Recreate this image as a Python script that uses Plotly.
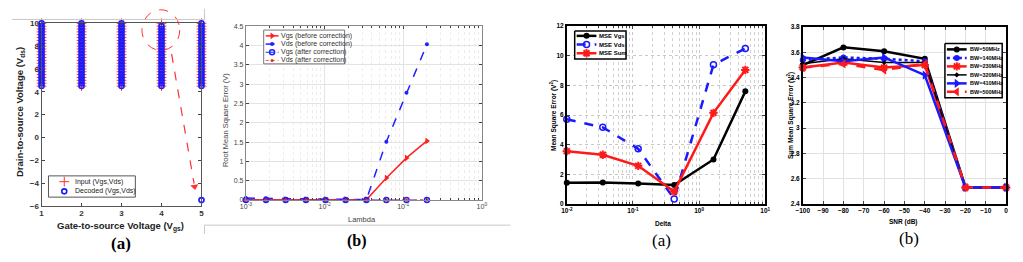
import plotly.graph_objects as go

W, H = 1023, 262

# ---------------- data ----------------
# Left figure, panel (a): input vs decoded (Vgs, Vds) pairs
vgs_levels = [1, 2, 3, 4, 5]
vds_levels = [4.5, 4.75, 5.0, 5.25, 5.5, 5.75, 6.0, 6.25, 6.5, 6.75, 7.0, 7.25,
              7.5, 7.75, 8.0, 8.25, 8.5, 8.75, 9.0, 9.25, 9.5, 9.75, 10.0]
err_input = [4, 10]        # the pair that is decoded wrongly
err_decoded = [5, -5.5]    # where it ends up

# Left figure, panel (b): RMSE vs Lambda
lambda_vals = [0.001, 0.0018, 0.0032, 0.0058, 0.0103, 0.0185, 0.034, 0.061, 0.11, 0.2]
vgs_before = [0.005, 0.005, 0.005, 0.005, 0.005, 0.005, 0.005, 0.57, 1.09, 1.53]
vds_before = [0.05, 0.045, 0.03, 0.02, 0.015, 0.01, 0.01, 1.51, 2.78, 4.03]
vgs_after = [0.0, 0.0, 0.0, 0.0, 0.0, 0.0, 0.0, 0.0, 0.0, 0.0]
vds_after = [0.0, 0.0, 0.0, 0.0, 0.0, 0.0, 0.0, 0.0, 0.0, 0.0]

# Right figure, panel (a): MSE vs Delta
delta_vals = [0.01, 0.035, 0.12, 0.42, 1.65, 5.0]
mse_vgs = [1.42, 1.44, 1.37, 1.28, 3.0, 7.6]
mse_vds = [5.72, 5.17, 3.72, 0.33, 9.4, 10.5]
mse_sum = [3.56, 3.32, 2.57, 0.83, 6.15, 9.05]

# Right figure, panel (b): Sum MSE vs SNR
snr_db = [-100, -80, -60, -40, -20, 0]
bw_names = ["BW=50MHz", "BW=140MHz", "BW=230MHz", "BW=320MHz", "BW=410MHz", "BW=500MHz"]
bw_50 = [3.50, 3.64, 3.61, 3.55, 2.53, 2.53]
bw_140 = [3.54, 3.56, 3.55, 3.53, 2.53, 2.53]
bw_230 = [3.48, 3.52, 3.48, 3.50, 2.53, 2.53]
bw_320 = [3.51, 3.55, 3.52, 3.52, 2.53, 2.53]
bw_410 = [3.56, 3.53, 3.56, 3.42, 2.53, 2.53]
bw_500 = [3.48, 3.51, 3.46, 3.51, 2.53, 2.53]

# ---------------- helpers ----------------
SANS = "Liberation Sans, Arial, sans-serif"
SERIF = "Liberation Serif, Times New Roman, serif"


def fx(p):
    return p / W


def fy(p):
    return 1 - p / H


def dom(x0, x1, y0, y1):
    return [fx(x0), fx(x1)], [fy(y1), fy(y0)]


fig = go.Figure()

# ---------------- panel 1 ----------------
in_x, in_y, dec_x, dec_y = [], [], [], []
for g in vgs_levels:
    for d in vds_levels:
        in_x.append(g)
        in_y.append(d)
        if [g, d] == err_input:
            dec_x.append(err_decoded[0])
            dec_y.append(err_decoded[1])
        else:
            dec_x.append(g)
            dec_y.append(d)

s_input = dict(mode="markers", marker=dict(symbol="cross-thin-open", size=7,
                                           line=dict(color="#ff3030", width=1), color="#ff3030"))
s_dec = dict(mode="markers", marker=dict(symbol="circle-open", size=5,
                                         line=dict(color="#1a1aff", width=1.6), color="#1a1aff"))
fig.add_trace(go.Scatter(x=in_x, y=in_y, xaxis="x", yaxis="y", cliponaxis=False, **s_input))
fig.add_trace(go.Scatter(x=dec_x, y=dec_y, xaxis="x", yaxis="y", cliponaxis=False, **s_dec))

# ---------------- panel 2 ----------------
p2 = [
    ("Vgs (before correction)", vgs_before, dict(mode="lines+markers", line=dict(color="#ff2020", width=1.5),
                                                  marker=dict(symbol="triangle-right", size=6, color="#ff2020"))),
    ("Vds (before correction)", vds_before, dict(mode="lines+markers", line=dict(color="#2020ff", width=1.5, dash="dash"),
                                                  marker=dict(symbol="circle", size=4, color="#2020ff"))),
    ("Vgs (after correction)", vgs_after, dict(mode="lines+markers", line=dict(color="#2020ff", width=1, dash="dashdot"),
                                                marker=dict(symbol="circle-open", size=5, color="#2020ff",
                                                            line=dict(width=1.5, color="#2020ff")))),
    ("Vds (after correction)", vds_after, dict(mode="lines+markers", line=dict(color="#ff5050", width=1, dash="dot"),
                                                marker=dict(symbol="circle", size=3, color="#ff2020"))),
]
for name, ys, st in p2:
    fig.add_trace(go.Scatter(x=lambda_vals, y=ys, xaxis="x2", yaxis="y2", cliponaxis=False, **st))

# ---------------- panel 3 ----------------
p3 = [
    ("MSE Vgs", mse_vgs, dict(mode="lines+markers", line=dict(color="black", width=2.5),
                              marker=dict(symbol="circle", size=6, color="black"))),
    ("MSE Vds", mse_vds, dict(mode="lines+markers", line=dict(color="#1a1aff", width=2.5, dash="dash"),
                              marker=dict(symbol="circle-open", size=6, color="#1a1aff",
                                          line=dict(width=1.5, color="#1a1aff")))),
    ("MSE Sum", mse_sum, dict(mode="lines+markers", line=dict(color="#ff1a1a", width=2.5),
                              marker=dict(symbol="asterisk-open", size=7, color="#ff1a1a",
                                          line=dict(width=2, color="#ff1a1a")))),
]
for name, ys, st in p3:
    fig.add_trace(go.Scatter(x=delta_vals, y=ys, xaxis="x3", yaxis="y3", cliponaxis=False, **st))

# ---------------- panel 4 ----------------
p4_styles = [
    dict(mode="lines+markers", line=dict(color="black", width=2.5),
         marker=dict(symbol="circle", size=6, color="black")),
    dict(mode="lines+markers", line=dict(color="#1a1aff", width=2.5, dash="dot"),
         marker=dict(symbol="circle", size=6, color="#1a1aff")),
    dict(mode="lines+markers", line=dict(color="#ff1a1a", width=2.5),
         marker=dict(symbol="asterisk-open", size=7, color="#ff1a1a", line=dict(width=2, color="#ff1a1a"))),
    dict(mode="lines+markers", line=dict(color="black", width=1.5),
         marker=dict(symbol="diamond", size=4, color="black")),
    dict(mode="lines+markers", line=dict(color="#1a1aff", width=2.5),
         marker=dict(symbol="triangle-right", size=8, color="#1a1aff")),
    dict(mode="lines+markers", line=dict(color="#ff1a1a", width=2.5, dash="dash"),
         marker=dict(symbol="triangle-left", size=8, color="#ff1a1a")),
]
p4 = list(zip(bw_names, [bw_50, bw_140, bw_230, bw_320, bw_410, bw_500], p4_styles))
for name, ys, st in p4:
    fig.add_trace(go.Scatter(x=snr_db, y=ys, xaxis="x4", yaxis="y4", cliponaxis=False, **st))

# ---------------- overlay (legends, arrow) in pixel space ----------------
OV = dict(xaxis="x5", yaxis="y5", hoverinfo="skip", showlegend=False, cliponaxis=False)


def add_legend(box, rows, sx, tx, items, font, border="#333333", bw=1):
    x0, y0, x1, y1 = box
    fig.add_trace(go.Scatter(x=[x0, x1, x1, x0, x0], y=[y0, y0, y1, y1, y0], mode="lines", fill="toself",
                             fillcolor="white", line=dict(color=border, width=bw), **OV))
    for yy, (name, st) in zip(rows, items):
        st = dict(st)
        mode = st.pop("mode")
        if "lines" in mode:
            fig.add_trace(go.Scatter(x=[sx[0], sx[1]], y=[yy, yy], mode="lines", line=st["line"], **OV))
        fig.add_trace(go.Scatter(x=[(sx[0] + sx[1]) / 2], y=[yy], mode="markers", marker=st["marker"], **OV))
        fig.add_annotation(x=fx(tx), y=fy(yy), xref="paper", yref="paper", text=name, showarrow=False,
                           xanchor="left", yanchor="middle", font=font)


add_legend((42, 178, 130, 200), [184, 194], (52, 64), (67),
           [("Input (Vgs,Vds)", s_input), ("Decoded (Vgs,Vds)", s_dec)],
           dict(family=SANS, size=7, color="#222"), border="#555")
add_legend((260, 27, 342, 62), [33, 41.5, 50, 58.5], (262, 275), 275,
           [(n, st) for n, _, st in p2], dict(family=SANS, size=7, color="#333"), border="#777")
add_legend((575, 28, 627, 57), [33, 42, 51], (577, 597), 598,
           [(n, st) for n, _, st in p3], dict(family=SANS, size=6, color="black", weight="bold"),
           border="black", bw=1.5)
add_legend((950, 41, 1008, 97), [47, 55.8, 64.6, 73.4, 82.2, 91], (952, 972), 973,
           [(n, st) for n, _, st in p4], dict(family=SANS, size=5.5, color="black", weight="bold"),
           border="black", bw=1.5)

# arrow from circled point to decoded location
fig.add_trace(go.Scatter(x=[166.7, 189.5], y=[51.7, 186], mode="lines",
                         line=dict(color="#ff3030", width=1.2, dash="dash"), **OV))
fig.add_trace(go.Scatter(x=[190], y=[189], mode="markers",
                         marker=dict(symbol="triangle-down", size=7, color="#ff3030", angle=-9), **OV))

# ---------------- layout ----------------
shapes = [
    dict(type="circle", xref="paper", yref="paper", x0=fx(136.7), x1=fx(175), y0=fy(48), y1=fy(6),
         line=dict(color="#ff3030", width=1, dash="dash")),
    # page frame fragments
    dict(type="line", xref="paper", yref="paper", x0=fx(5), x1=fx(200), y0=fy(16), y1=fy(16),
         line=dict(color="#c8c8c8", width=1)),
    dict(type="line", xref="paper", yref="paper", x0=fx(200), x1=fx(200), y0=fy(5), y1=fy(16),
         line=dict(color="#c8c8c8", width=1)),
    dict(type="line", xref="paper", yref="paper", x0=fx(200), x1=fx(510), y0=fy(229), y1=fy(229),
         line=dict(color="#c8c8c8", width=1)),
    dict(type="line", xref="paper", yref="paper", x0=fx(200), x1=fx(200), y0=fy(229), y1=fy(238),
         line=dict(color="#c8c8c8", width=1)),
]

d1x, d1y = dom(35, 197, 20, 209)
d2x, d2y = dom(242, 481, 23, 203)
d3x, d3y = dom(567, 768, 23, 207)
d4x, d4y = dom(806, 1012, 24, 207)


def ax(domain, **kw):
    base = dict(domain=domain, showline=True, mirror="ticks", ticks="inside", ticklen=3,
                zeroline=False, fixedrange=True)
    base.update(kw)
    return base


def log_minor(lo, hi):
    return [m * 10 ** e for e in range(lo, hi) for m in range(2, 10)]


tf1 = dict(family=SANS, size=8, color="#333", weight="bold")
tf2 = dict(family=SANS, size=7, color="#444")
tf3 = dict(family=SANS, size=6.5, color="black", weight="bold")

fig.update_layout(
    width=W, height=H, margin=dict(l=0, r=0, t=0, b=0),
    paper_bgcolor="white", plot_bgcolor="rgba(0,0,0,0)", showlegend=False,
    xaxis=ax(d1x, range=[1, 5], dtick=1, showgrid=False, linecolor="#555", tickfont=tf1, anchor="y"),
    yaxis=ax(d1y, range=[-6, 10], dtick=2, showgrid=False, linecolor="#555", tickfont=tf1, anchor="x"),
    xaxis2=ax(d2x, type="log", range=[-3, 0], tickvals=[0.001, 0.01, 0.1, 1],
              ticktext=["10<sup>-3</sup>", "10<sup>-2</sup>", "10<sup>-1</sup>", "10<sup>0</sup>"],
              showgrid=True, gridcolor="#e3e3e3", linecolor="#888", tickfont=tf2, anchor="y2",
              minor=dict(tickvals=log_minor(-3, 0), showgrid=True, gridcolor="#ececec", griddash="dot",
                         ticks="inside", ticklen=2)),
    yaxis2=ax(d2y, range=[0, 4.5], dtick=0.5, showgrid=True, gridcolor="#e3e3e3", linecolor="#888",
              tickfont=tf2, anchor="x2"),
    xaxis3=ax(d3x, type="log", range=[-2, 1], tickvals=[0.01, 0.1, 1, 10],
              ticktext=["10<sup>-2</sup>", "10<sup>-1</sup>", "10<sup>0</sup>", "10<sup>1</sup>"],
              showgrid=True, gridcolor="#c8c8c8", griddash="dot", linecolor="black", linewidth=1.5,
              tickfont=tf3, anchor="y3",
              minor=dict(tickvals=log_minor(-2, 1), showgrid=True, gridcolor="#d0d0d0", griddash="dot",
                         ticks="inside", ticklen=2)),
    yaxis3=ax(d3y, range=[0, 12], dtick=2, showgrid=True, gridcolor="#c8c8c8", griddash="dot",
              linecolor="black", linewidth=1.5, tickfont=tf3, anchor="x3"),
    xaxis4=ax(d4x, range=[-100, 0], dtick=10, showgrid=True, gridcolor="#e2e2e2", linecolor="black",
              linewidth=1.5, tickfont=tf3, anchor="y4"),
    yaxis4=ax(d4y, range=[2.4, 3.8], dtick=0.2, showgrid=True, gridcolor="#e2e2e2", linecolor="black",
              linewidth=1.5, tickfont=tf3, anchor="x4"),
    xaxis5=dict(domain=[0, 1], range=[0, W], visible=False, fixedrange=True, anchor="y5"),
    yaxis5=dict(domain=[0, 1], range=[H, 0], visible=False, fixedrange=True, anchor="x5"),
    shapes=shapes,
)


def label(x, y, text, font, angle=0):
    fig.add_annotation(x=fx(x), y=fy(y), xref="paper", yref="paper", text=text, showarrow=False,
                       xanchor="center", yanchor="middle", textangle=angle, font=font)


bt1 = dict(family=SANS, size=9.5, color="#222", weight="bold")
label(115, 230, "Gate-to-source Voltage (V<sub>gs</sub>)", bt1)
label(13, 112, "Drain-to-source Voltage (V<sub>ds</sub>)", bt1, -90)
label(360, 223, "Lambda", dict(family=SANS, size=7.5, color="#444"))
label(222, 120, "Root Mean Square Error (V)", dict(family=SANS, size=7.5, color="#444"), -90)
bt3 = dict(family=SANS, size=6.5, color="black", weight="bold")
label(664, 227, "Delta", bt3)
label(553, 115, "Mean Square Error (V<sup>2</sup>)", bt3, -90)
label(908, 226, "SNR (dB)", bt3)
label(793, 115, "Sum Mean Square Error (V<sup>2</sup>)", bt3, -90)

label(115, 248, "(a)", dict(family=SERIF, size=17, color="black", weight="bold"))
label(355, 245, "(b)", dict(family=SERIF, size=16, color="black", weight="bold"))
label(663, 245, "(a)", dict(family=SERIF, size=17, color="black"))
label(914, 243, "(b)", dict(family=SERIF, size=17, color="black"))

fig.write_html("out.html")
